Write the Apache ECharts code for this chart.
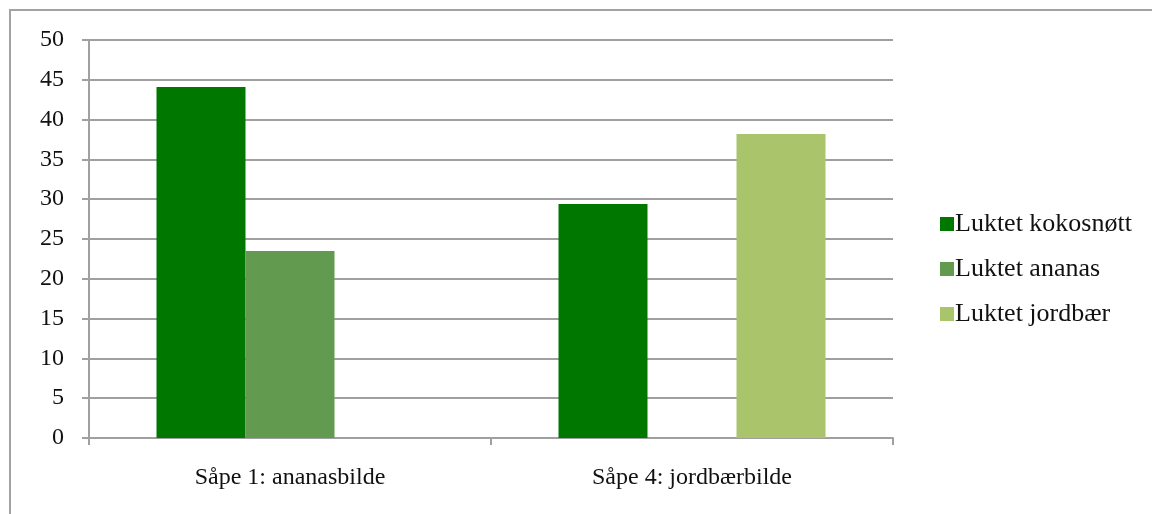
<!DOCTYPE html>
<html>
<head>
<meta charset="utf-8">
<script src="https://cdn.jsdelivr.net/npm/echarts@6/dist/echarts.min.js"></script>
<style>
  html, body { margin: 0; padding: 0; background: #fff; overflow: hidden; }
  #frame { position: absolute; left: 9px; top: 9px; width: 1200px; height: 600px;
           border: 2px solid #a3a3a3; box-sizing: border-box; }
  #chart { position: absolute; left: 0; top: 0; width: 1152px; height: 514px; }
</style>
</head>
<body>
<div id="frame"></div>
<div id="chart"></div>
<script>
// Categories (soap + picture shown) and share of answers per scent
const categories = ['Såpe 1: ananasbilde', 'Såpe 4: jordbærbilde'];
const seriesNames = ['Luktet kokosnøtt', 'Luktet ananas', 'Luktet jordbær'];
const kokosnott = [44.1, 29.4];
const ananas = [23.5, null];
const jordbaer = [null, 38.2];
const yTicks = { min: 0, max: 50, interval: 5 };

const colors = ['#007800', '#629b4f', '#aac46b'];
const font = '"Liberation Serif", "DejaVu Serif", serif';

const chart = echarts.init(document.getElementById('chart'), null, { renderer: 'canvas' });

const values = [kokosnott, ananas, jordbaer];
const series = seriesNames.map((name, i) => ({
  name,
  type: 'bar',
  data: values[i],
  barWidth: 89,
  barGap: '0%',
  itemStyle: { color: colors[i] },
  emphasis: { disabled: true }
}));

chart.setOption({
  animation: false,
  backgroundColor: 'transparent',
  grid: { left: 89, right: 259, top: 40, bottom: 76, containLabel: false },
  legend: {
    orient: 'vertical',
    left: 935,
    top: 206,
    itemWidth: 14,
    itemHeight: 14,
    itemGap: 19,
    icon: 'rect',
    selectedMode: false,
    textStyle: { fontFamily: font, fontSize: 26, color: '#111', padding: [0, 0, 0, -4] },
    data: seriesNames
  },
  xAxis: {
    type: 'category',
    data: categories,
    axisLine: { lineStyle: { color: '#a0a0a0', width: 2 } },
    axisTick: { show: true, length: 7, lineStyle: { color: '#a0a0a0', width: 2 } },
    axisLabel: { fontFamily: font, fontSize: 24, color: '#111', margin: 28 },
    splitLine: { show: false }
  },
  yAxis: {
    type: 'value',
    min: yTicks.min,
    max: yTicks.max,
    interval: yTicks.interval,
    axisLine: { show: true, lineStyle: { color: '#a0a0a0', width: 2 } },
    axisTick: { show: true, length: 7, lineStyle: { color: '#a0a0a0', width: 2 } },
    axisLabel: { fontFamily: font, fontSize: 24, color: '#111', margin: 25 },
    splitLine: { show: true, lineStyle: { color: '#a0a0a0', width: 2 } }
  },
  series
});
</script>
</body>
</html>
